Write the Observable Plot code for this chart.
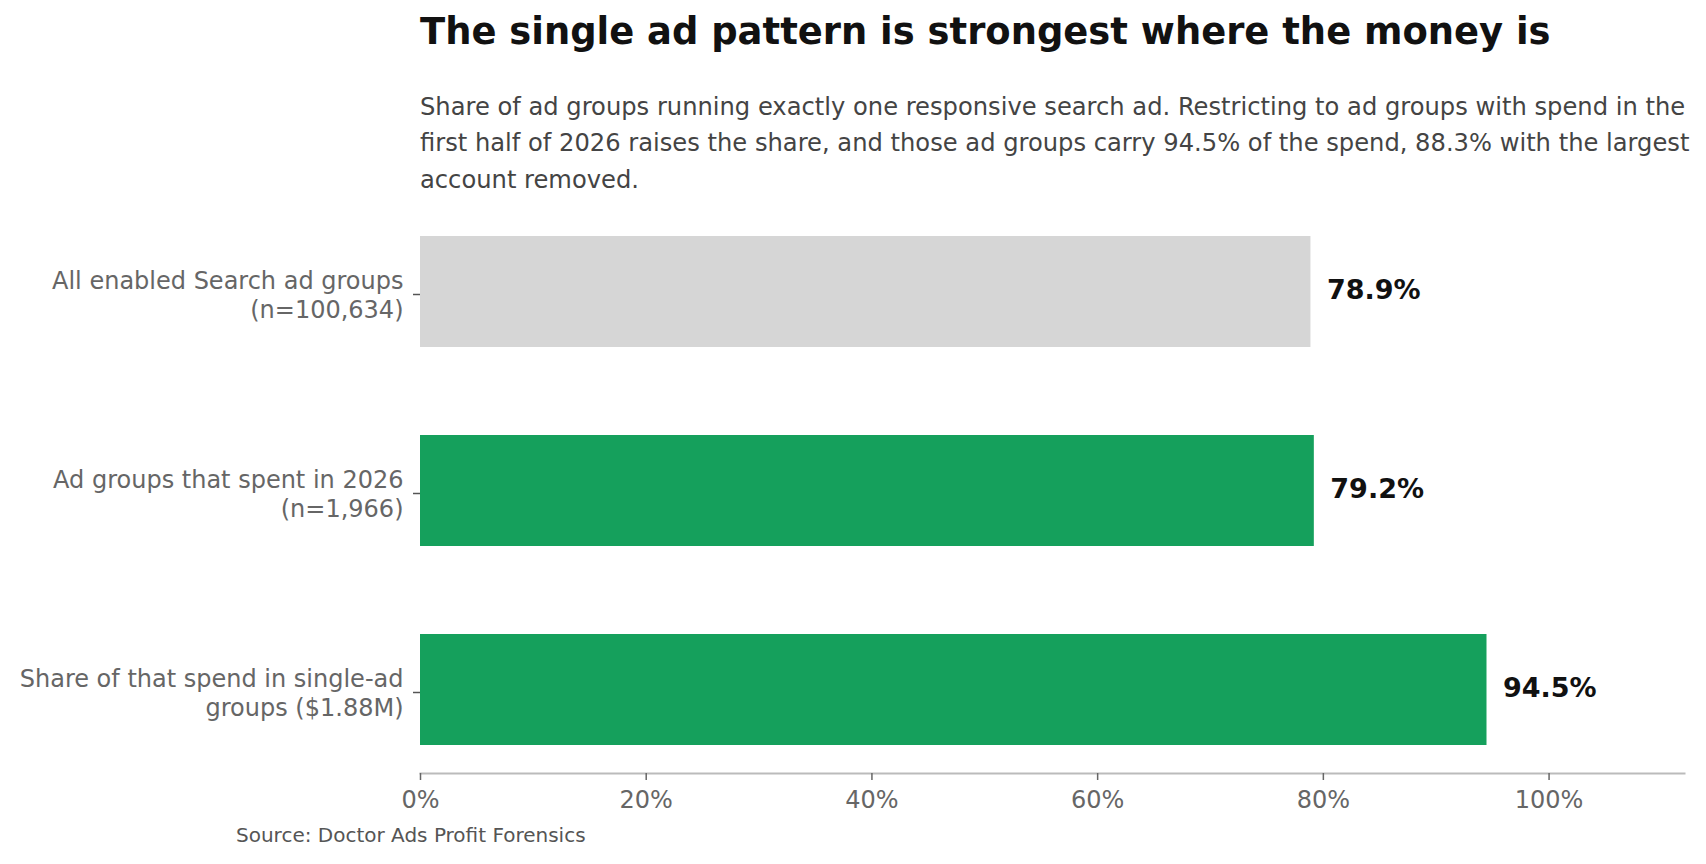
<!DOCTYPE html>
<html>
<head>
<meta charset="utf-8">
<script src="https://cdn.jsdelivr.net/npm/d3@7"></script>
<script src="https://cdn.jsdelivr.net/npm/@observablehq/plot@0.6"></script>
<style>
  html, body { margin: 0; padding: 0; background: #fff; }
  #wrap { position: relative; width: 1706px; height: 864px; font-family: "DejaVu Sans", sans-serif; overflow: hidden; }
  #title { position: absolute; left: 420px; top: 14px; font-size: 36.9px; line-height: 36.9px; font-weight: bold; color: #111; white-space: nowrap; }
  #subtitle { position: absolute; left: 420px; top: 89px; font-size: 24.2px; line-height: 36.3px; color: #444; white-space: nowrap; }
  #chart { position: absolute; left: 0; top: 200px; }
  #source { position: absolute; left: 236px; top: 825px; font-size: 20px; line-height: 20px; color: #555; white-space: nowrap; }
</style>
</head>
<body>
<div id="wrap">
  <div id="title">The single ad pattern is strongest where the money is</div>
  <div id="subtitle">Share of ad groups running exactly one responsive search ad. Restricting to ad groups with spend in the<br>first half of 2026 raises the share, and those ad groups carry 94.5% of the spend, 88.3% with the largest<br>account removed.</div>
  <div id="chart"></div>
  <div id="source">Source: Doctor Ads Profit Forensics</div>
</div>
<script>
const categories = [
  "All enabled Search ad groups\n(n=100,634)",
  "Ad groups that spent in 2026\n(n=1,966)",
  "Share of that spend in single-ad\ngroups ($1.88M)"
];
const values = [78.9, 79.2, 94.5];
const highlighted = [false, true, true];
const xTicks = [0, 20, 40, 60, 80, 100];

const data = categories.map((c, i) => ({category: c, value: values[i], highlight: highlighted[i]}));

const chart = Plot.plot({
  width: 1706,
  height: 620,
  marginLeft: 420,
  marginRight: 22,
  marginTop: 15,
  marginBottom: 47,
  style: {fontFamily: "DejaVu Sans, sans-serif", background: "transparent"},
  x: {domain: [0, 112], label: null},
  y: {domain: categories, range: [15, 567], paddingInner: 0.44, paddingOuter: 0.1, label: null},
  marks: [
    Plot.barX(data, {
      y: "category",
      x: "value",
      fill: d => d.highlight ? "#15a05c" : "#d6d6d6"
    }),
    Plot.text(data, {
      y: "category",
      x: "value",
      text: d => d.value.toFixed(1) + "%",
      textAnchor: "start",
      dx: 16,
      dy: -1.5,
      fontSize: 27,
      fontWeight: "bold",
      fill: "#111"
    }),
    Plot.frame({anchor: "bottom", stroke: "#bbbbbb", strokeWidth: 2}),
    Plot.axisX({
      ticks: xTicks,
      tickFormat: d => d + "%",
      tickSize: 7,
      tickPadding: 10,
      fontSize: 24,
      fill: "#666",
      stroke: "#666",
      strokeWidth: 1.5,
      label: null
    }),
    Plot.axisY({
      tickFormat: d => d,
      tickSize: 7,
      tickPadding: 10,
      fontSize: 24,
      lineHeight: 1.2,
      dy: 2.5,
      fill: "#666",
      stroke: "#555",
      strokeWidth: 1.5,
      label: null
    })
  ]
});
document.getElementById("chart").appendChild(chart);
</script>
</body>
</html>
